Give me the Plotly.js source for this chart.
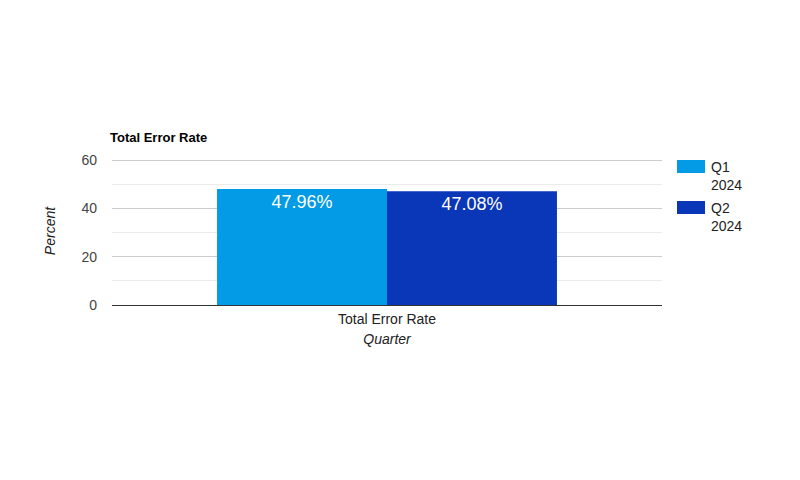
<!DOCTYPE html>
<html>
<head>
<meta charset="utf-8">
<script src="https://cdn.plot.ly/plotly-3.0.1.min.js"></script>
<style>html,body{margin:0;padding:0;background:#fff;}#chart{width:800px;height:480px;}</style>
</head>
<body>
<div id="chart"></div>
<script>
const categories = ["Total Error Rate"];
const seriesNames = ["Q1<br>2024", "Q2<br>2024"];
const q1Values = [47.96];
const q2Values = [47.08];
const colors = ["#039be5", "#0a36b8"];

const fontFam = "Liberation Sans, Arial, sans-serif";
const traces = [q1Values, q2Values].map((vals, i) => ({
  type: "bar",
  name: seriesNames[i],
  x: categories,
  y: vals,
  marker: {color: colors[i]},
  text: vals.map(v => v.toFixed(2) + "%"),
  textposition: "inside",
  insidetextanchor: "end",
  textfont: {color: "#ffffff", size: 18, family: fontFam},
  hoverinfo: "none",
  showlegend: false
}));

// plot area: top at 157px, bottom at 305px; value 60 lands at 160px
const plotTop = 157, plotBot = 305, plotL = 112, plotR = 662;
const plotH = plotBot - plotTop, plotW = plotR - plotL;
const yMax = 60 * plotH / (plotBot - 160);

const px2x = px => (px - plotL) / plotW;
const px2y = py => (plotBot - py) / plotH;

// custom legend with wide swatches
const shapes = [];
const annotations = [];
seriesNames.forEach((n, i) => {
  const top = 160 + i * 41;
  shapes.push({type: "rect", xref: "paper", yref: "paper",
    x0: px2x(677), x1: px2x(705), y0: px2y(top), y1: px2y(top + 13),
    fillcolor: colors[i], line: {width: 0}});
  annotations.push({xref: "paper", yref: "paper", x: px2x(709), y: px2y(top - 3),
    xanchor: "left", yanchor: "top", align: "left", showarrow: false,
    text: n, font: {size: 14, color: "#222", family: fontFam}});
});

const layout = {
  width: 800, height: 480,
  paper_bgcolor: "#fff", plot_bgcolor: "#fff",
  margin: {l: plotL, r: 800 - plotR, t: plotTop, b: 480 - plotBot},
  barmode: "group",
  bargap: 0.382,
  bargroupgap: 0,
  title: {text: "<b>Total Error Rate</b>", x: 110/800, xanchor: "left", y: 1 - 137/480, yanchor: "middle", font: {family: fontFam, size: 13, color: "#000"}},
  font: {family: fontFam, color: "#444"},
  xaxis: {
    showgrid: false, ticks: "", showline: false,
    tickfont: {size: 14, color: "#222"},
    ticklabelstandoff: 4,
    title: {text: "<i>Quarter</i>", font: {size: 14, color: "#222"}, standoff: 8}
  },
  yaxis: {
    range: [0, yMax], tickvals: [0, 20, 40, 60],
    gridcolor: "#cccccc", gridwidth: 1,
    zeroline: true, zerolinecolor: "#333", zerolinewidth: 1,
    tickfont: {size: 14, color: "#444"},
    ticklabelstandoff: 14,
    minor: {tickvals: [10, 30, 50], showgrid: true, gridcolor: "#ebebeb", gridwidth: 1},
    title: {text: "<i>Percent</i>", font: {size: 14, color: "#222"}, standoff: 22}
  },
  shapes: shapes,
  annotations: annotations,
  showlegend: false
};
Plotly.newPlot("chart", traces, layout, {displayModeBar: false, staticPlot: true});
</script>
</body>
</html>
